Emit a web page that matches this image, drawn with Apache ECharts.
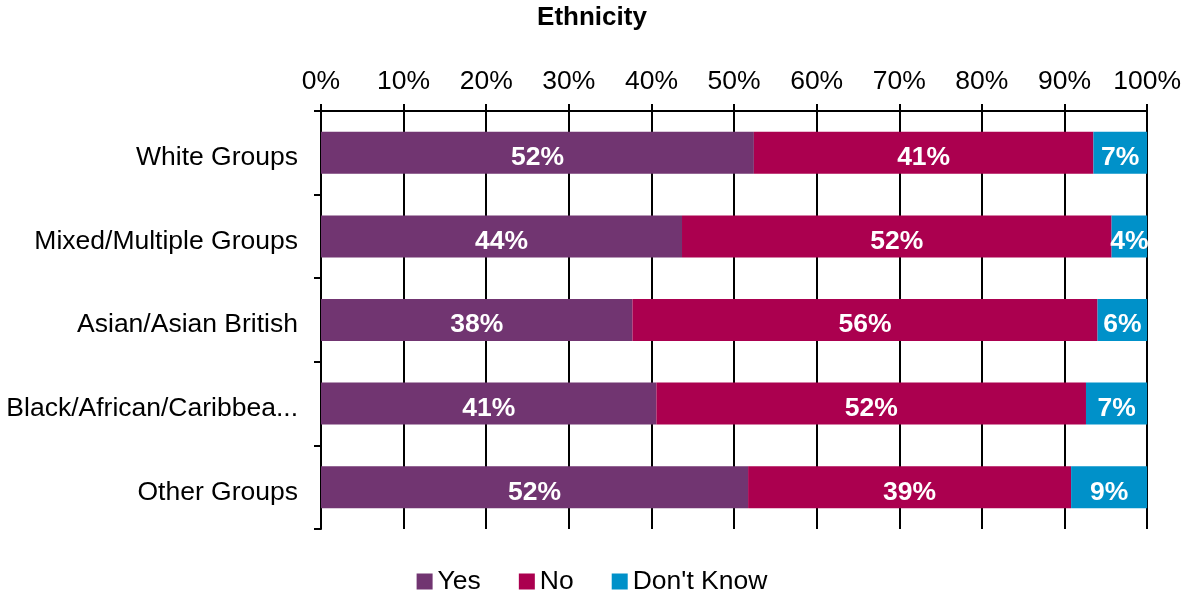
<!DOCTYPE html>
<html>
<head>
<meta charset="utf-8">
<script src="https://cdn.jsdelivr.net/npm/echarts@6/dist/echarts.min.js"></script>
<style>
  html, body { margin: 0; padding: 0; background: #fff; }
  #chart { width: 1184px; height: 595px; }
</style>
</head>
<body>
<div id="chart"></div>
<script>
// Survey responses by ethnic group (percent of respondents)
const categories = ['White Groups', 'Mixed/Multiple Groups', 'Asian/Asian British', 'Black/African/Caribbea...', 'Other Groups'];
const yesValues = [52.4, 43.7, 37.7, 40.6, 51.7];
const noValues = [41.1, 52.0, 56.3, 52.0, 39.1];
const dontKnowValues = [6.5, 4.3, 6.0, 7.4, 9.2];
const seriesNames = ['Yes', 'No', "Don't Know"];
const seriesColors = ['#713571', '#ab004f', '#0091c9'];

const FONT = 'Liberation Sans, Arial, sans-serif';
const FS = 26.5;

function makeSeries(name, values, color) {
  return {
    name: name,
    type: 'bar',
    stack: 'total',
    data: values,
    barWidth: 42,
    itemStyle: { color: color },
    label: {
      show: true,
      position: 'inside',
      offset: [0, 5],
      color: '#ffffff',
      fontFamily: FONT,
      fontWeight: 'bold',
      fontSize: FS,
      formatter: p => Math.round(p.value) + '%'
    }
  };
}

const chart = echarts.init(document.getElementById('chart'), null, { renderer: 'canvas' });
chart.setOption({
  animation: false,
  backgroundColor: '#ffffff',
  title: {
    text: 'Ethnicity',
    left: 'center',
    top: 0,
    textStyle: { fontFamily: FONT, fontWeight: 'bold', fontSize: 26, color: '#000' }
  },
  legend: {
    top: 563,
    left: 'center',
    icon: 'rect',
    itemWidth: 16,
    itemHeight: 16,
    itemGap: 38,
    textStyle: { fontFamily: FONT, fontSize: FS, color: '#000' },
    data: seriesNames
  },
  grid: { left: 321, right: 35, top: 111, bottom: 66, containLabel: false },
  xAxis: {
    type: 'value',
    position: 'top',
    min: 0,
    max: 100,
    interval: 10,
    axisLine: { show: true, lineStyle: { color: '#000', width: 2 } },
    axisTick: { show: true, length: 7, lineStyle: { color: '#000', width: 2 } },
    splitLine: { show: true, lineStyle: { color: '#000', width: 2 } },
    axisLabel: { fontFamily: FONT, fontSize: FS, color: '#000', margin: 16, formatter: '{value}%' }
  },
  yAxis: {
    type: 'category',
    inverse: true,
    data: categories,
    axisLine: { show: true, lineStyle: { color: '#000', width: 2 } },
    axisTick: { show: true, length: 7, lineStyle: { color: '#000', width: 2 } },
    axisLabel: {
      margin: 23,
      formatter: v => '{c|' + v + '}',
      rich: {
        c: { fontFamily: FONT, fontSize: FS, color: '#000', padding: [10, 0, 0, 0] }
      }
    }
  },
  series: [
    makeSeries(seriesNames[0], yesValues, seriesColors[0]),
    makeSeries(seriesNames[1], noValues, seriesColors[1]),
    makeSeries(seriesNames[2], dontKnowValues, seriesColors[2])
  ]
});
</script>
</body>
</html>
